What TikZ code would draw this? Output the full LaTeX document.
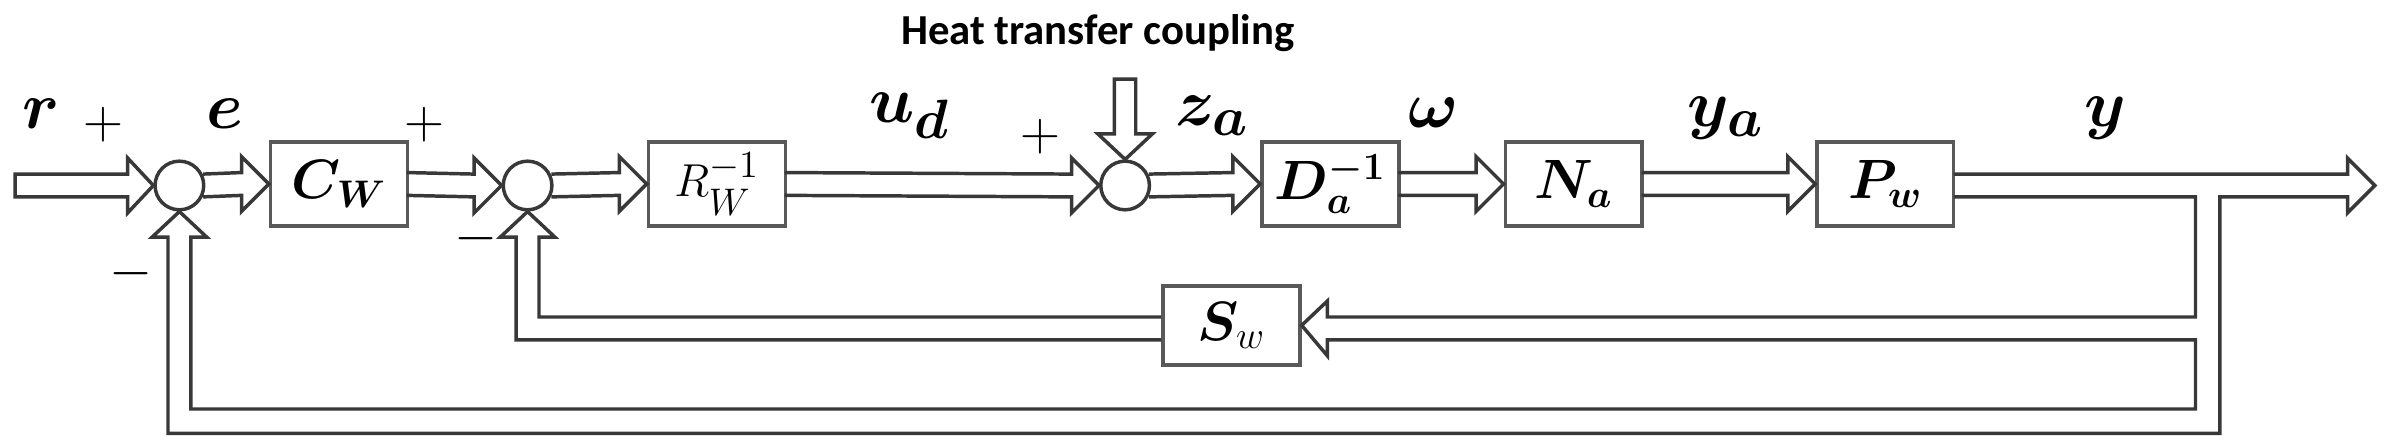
\documentclass[tikz,border=0pt]{standalone}
\usepackage{amsmath,amssymb,bm}
\usepackage{fontspec}
\usetikzlibrary{calc}
\newfontfamily\heatfont{Carlito}
\begin{document}
\begin{tikzpicture}[x=0.02cm,y=-0.02cm,
  rail/.style={draw=black!78,line width=1.3pt,line join=miter},
  blk/.style={draw=black!65,line width=1.3pt,minimum width=1.8cm,minimum height=1.1cm,inner sep=0pt,font=\fontsize{22}{22}\selectfont},
  sum/.style={circle,draw=black!78,line width=1.3pt,minimum size=0.64cm,inner sep=0pt,fill=white},
  lab/.style={font=\fontsize{32}{32}\selectfont},
  sgn/.style={font=\fontsize{22}{22}\selectfont}]
\useasboundingbox (0,0) rectangle (1568,293);
\newcommand\harrow[2]{\draw[rail] ($(#1)+(-1.5,7.5)$) -- ($(#2)+(-18,7.5)$) -- ++(0,10.5) -- (#2) -- ($(#2)+(-18,-18)$) -- ++(0,10.5) -- ($(#1)+(-1.5,-7.5)$);}
% nodes
\node[sum] (s1) at (118,122) {};
\node[sum] (s2) at (347,122) {};
\node[sum] (s3) at (740,122) {};
\node[blk] (C) at (223,121) {$\bm{C_W}$};
\node[blk] (R) at (471.5,121) {\fontsize{19}{19}\selectfont$R_W^{-1}$};
\node[blk] (D) at (875,121) {$\bm{D_a^{-1}}$};
\node[blk] (N) at (1035,121) {$\bm{N_a}$};
\node[blk] (P) at (1240,121) {$\bm{P_w}$};
\node[blk,minimum height=1.04cm] (S) at (810,214) {$\bm{S}_w$};
\coordinate (in) at (10,122);
\coordinate (hs) at (740,52);
% forward arrows
\draw[rail] (84,114.5) -- (in|-0,114.5) -- (in|-0,129.5) -- (84,129.5) -- (84,140) -- (s1.west) -- (84,104) -- cycle;
\harrow{s1.east}{C.west}
\harrow{C.east}{s2.west}
\harrow{s2.east}{R.west}
\harrow{R.east}{s3.west}
\harrow{s3.east}{D.west}
\harrow{D.east}{N.west}
\harrow{N.east}{P.west}
% heat arrow
\draw[rail] ($(hs)+(-7,0)$) -- ($(hs)+(7,0)$) -- ($(hs)+(7,36)$) -- ($(hs)+(18,36)$) -- (s3.north) -- ($(hs)+(-18,36)$) -- ($(hs)+(-7,36)$) -- cycle;
% output + feedback loops
\draw[rail] (1285,129.5) -- (1444,129.5) -- (1444,208.5) -- (873,208.5) -- (873,198) -- (S.east) -- (873,234) -- (873,223.5) -- (1444,223.5) -- (1444,269) -- (125.5,269) -- (125.5,156) -- (136,156) -- (s1.south) -- (100,156) -- (110.5,156) -- (110.5,285) -- (1460,285) -- (1460,129.5) -- (1544,129.5) -- (1544,140) -- (1562,122) -- (1544,104) -- (1544,114.5) -- (1285,114.5);
\draw[rail] (S.west|-0,208.5) -- (354.5,208.5) -- (354.5,156) -- (365,156) -- (s2.south) -- (329,156) -- (339.5,156) -- (339.5,223.5) -- (S.west|-0,223.5);
% labels
\node[font=\heatfont\bfseries\fontsize{16}{16}\selectfont] (ht) at (722,22) {Heat transfer coupling};
\node[lab] (lr) at (27,75) {$\bm{r}$};
\node[sgn] (p1) at (68,82) {$+$};
\node[lab] (le) at (148,75) {$\bm{e}$};
\node[sgn] (p2) at (279,82) {$+$};
\node[sgn] (m2) at (313,157) {$-$};
\node[sgn] (m1) at (86,180) {$-$};
\node[lab] (lu) at (598,76) {$\bm{u_d}$};
\node[sgn] (p3) at (684,90) {$+$};
\node[lab] (lz) at (797,76) {$\bm{z_a}$};
\node[lab] (lw) at (943,74) {$\bm{\omega}$};
\node[lab] (ly1) at (1135,78) {$\bm{y_a}$};
\node[lab] (ly) at (1385,78) {$\bm{y}$};
\end{tikzpicture}
\end{document}
